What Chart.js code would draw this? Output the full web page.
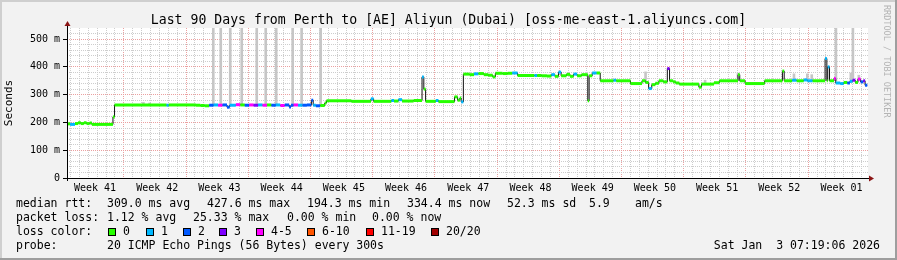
<!DOCTYPE html>
<html>
<head>
<meta charset="utf-8">
<script src="https://cdn.jsdelivr.net/npm/chart.js@4.4.1/dist/chart.umd.min.js"></script>
<style>
html, body { margin: 0; padding: 0; background: #f2f2f2; }
#wrap { position: relative; width: 897px; height: 260px; overflow: hidden; font-family: 'DejaVu Sans Mono', monospace; color: #000; }
#wrap canvas { position: absolute; left: 0; top: 0; }
.t { position: absolute; white-space: pre; font-size: 11.5px; line-height: 12px; }
#title { position: absolute; left: 0; width: 897px; top: 13px; text-align: center; font-size: 13.2px; line-height: 13px; white-space: pre; }
#side { position: absolute; left: 882px; top: 5px; writing-mode: vertical-rl; font-size: 8.5px; line-height: 10px; color: #b4b4b4; white-space: pre; }
.box { position: absolute; top: 228px; width: 6px; height: 6px; border: 1px solid #000; }
</style>
</head>
<body>
<div id="wrap">
  <canvas id="c" width="897" height="260"></canvas>
  <div id="title">Last 90 Days from Perth to [AE] Aliyun (Dubai) [oss-me-east-1.aliyuncs.com]</div>
  <div id="side">RRDTOOL / TOBI OETIKER</div>

  <div class="t" style="left:16px;top:197px">median rtt:</div>
  <div class="t" style="left:107px;top:197px">309.0 ms avg</div>
  <div class="t" style="left:207px;top:197px">427.6 ms max</div>
  <div class="t" style="left:307px;top:197px">194.3 ms min</div>
  <div class="t" style="left:407px;top:197px">334.4 ms now</div>
  <div class="t" style="left:507px;top:197px">52.3 ms sd</div>
  <div class="t" style="left:589px;top:197px">5.9</div>
  <div class="t" style="left:635px;top:197px">am/s</div>

  <div class="t" style="left:16px;top:211px">packet loss:</div>
  <div class="t" style="left:107px;top:211px">1.12 % avg</div>
  <div class="t" style="left:193px;top:211px">25.33 % max</div>
  <div class="t" style="left:287px;top:211px">0.00 % min</div>
  <div class="t" style="left:372px;top:211px">0.00 % now</div>

  <div class="t" style="left:16px;top:225px">loss color:</div>
  <div id="losslegend"></div>

  <div class="t" style="left:16px;top:239px">probe:</div>
  <div class="t" style="left:107px;top:239px">20 ICMP Echo Pings (56 Bytes) every 300s</div>
  <div class="t" style="right:17px;top:239px">Sat Jan  3 07:19:06 2026</div>
</div>
<script>
// x values are days from the left edge of the 90 day window
const weekLabels = ['Week 41', 'Week 42', 'Week 43', 'Week 44', 'Week 45', 'Week 46', 'Week 47',
  'Week 48', 'Week 49', 'Week 50', 'Week 51', 'Week 52', 'Week 01'];
const weekStart = 6.65;   // first week boundary
const dayMax = 90.13;

const lossLabels = ['0', '1', '2', '3', '4-5', '6-10', '11-19', '20/20'];
const lossColors = ['#26ff00', '#00b8ff', '#0059ff', '#7e00ff', '#ff00ff', '#ff5500', '#ff0000', '#a00000'];

// median rtt (ms), held until the next sample; loss = index into lossColors
const medDay = [0.00, 0.35, 0.90, 1.25, 1.55, 1.90, 2.20, 2.55, 2.80, 5.17, 5.35,
  11.20, 11.45, 14.50, 15.00, 15.50, 16.00, 16.50, 17.00, 17.50, 18.00, 18.30, 19.00,
  19.50, 20.00, 20.50, 21.00, 21.50, 22.00, 22.50, 23.00, 23.50, 24.00, 24.50, 25.00,
  25.20, 25.50, 26.00, 26.50, 27.00, 27.50, 27.70, 28.00, 28.50, 29.00, 29.20,
  32.00, 34.20, 34.50, 36.50, 36.80, 37.30, 37.70, 39.00, 39.95, 40.15, 40.35, 41.50,
  41.80, 43.60, 43.95, 44.20, 44.35, 44.60,
  45.30, 45.80, 46.30, 46.90, 47.40, 47.90, 48.20, 49.00, 49.60, 50.10, 50.70, 52.60,
  52.90, 53.40, 54.00, 54.50, 54.90, 55.30, 55.60, 56.20, 56.60, 57.00, 57.40, 57.90,
  58.60, 58.75, 59.10, 59.60, 60.00, 61.50, 61.80, 63.40, 64.70, 65.10, 65.45, 65.80,
  66.20, 66.60, 67.10, 67.55, 67.80, 68.20, 68.50, 68.90, 71.10, 71.40, 72.80, 73.40,
  75.50, 75.70, 76.30, 78.50, 80.50, 80.70, 81.60, 82.10, 82.90, 83.30, 83.90, 85.30,
  85.50, 85.60, 85.80, 86.30, 86.50, 87.00, 87.40, 87.80, 88.10, 88.40, 88.70, 89.00,
  89.30, 89.60, 89.80];
const medVal = [195, 193, 196, 199, 196, 199, 196, 198, 193, 220, 263,
  262, 263, 262, 261, 260, 262, 263, 262, 263, 255, 262, 264,
  263, 262, 263, 262, 263, 262, 263, 262, 263, 261, 263, 256,
  262, 263, 262, 262, 263, 280, 262, 260, 261, 270, 278,
  276, 285, 276, 279, 277, 282, 277, 279, 364, 320, 276, 279,
  275, 292, 280, 288, 274, 374,
  372, 375, 376, 372, 370, 364, 377, 376, 377, 378, 369, 369,
  369, 368, 367, 372, 366, 381, 368, 373, 366, 374, 368, 372,
  278, 368, 378, 378, 350, 352, 350, 340, 350, 344, 322, 336,
  341, 350, 346, 394, 350, 346, 342, 338, 327, 338, 343, 350,
  372, 350, 340, 350, 385, 350, 352, 350, 353, 350, 350, 430,
  350, 400, 350, 358, 342, 340, 344, 342, 348, 352, 344, 356,
  346, 350, 334];
const medLoss = [0, 1, 0, 0, 0, 0, 0, 0, 0, 0, 0,
  1, 0, 0, 0, 0, 2, 1, 4, 2, 2, 1, 4,
  0, 2, 4, 3, 1, 4, 0, 2, 1, 4, 2, 2,
  2, 4, 1, 2, 2, 2, 1, 2, 0, 0, 0,
  0, 1, 0, 1, 0, 1, 0, 0, 1, 0, 0, 1,
  0, 0, 0, 0, 1, 0,
  0, 1, 0, 0, 0, 0, 0, 0, 0, 1, 0, 1,
  0, 0, 0, 1, 0, 1, 0, 0, 0, 1, 0, 0,
  0, 0, 1, 0, 0, 1, 0, 0, 0, 0, 1, 0,
  0, 0, 0, 3, 0, 0, 0, 0, 0, 0, 0, 0,
  0, 0, 0, 0, 0, 0, 1, 0, 1, 1, 0, 1,
  0, 1, 0, 4, 1, 1, 0, 2, 1, 3, 0, 4,
  2, 3, 2];
const medEnd = 90.05;

// smoke (spread of the pings), ms
const smokeDay = [8.60, 9.30, 16.46, 17.30, 18.37, 19.66, 21.35, 22.36, 23.54, 25.39, 26.40, 28.54,
  65.10, 71.80, 75.50, 81.80, 83.30, 83.80, 86.52, 88.20, 88.43, 89.10];
const smokeLo = [263, 263, 265, 265, 265, 265, 265, 265, 265, 265, 265, 265,
  350, 338, 350, 350, 350, 350, 350, 348, 352, 350];
const smokeHi = [272, 270, 540, 540, 540, 540, 540, 540, 540, 540, 540, 540,
  382, 352, 378, 375, 375, 372, 540, 378, 540, 370];

// loss colour legend
const lossLeft = [108, 146, 183, 219, 256, 307, 366, 431];
const ll = document.getElementById('losslegend');
lossLabels.forEach((l, i) => {
  const b = document.createElement('div');
  b.className = 'box'; b.style.left = lossLeft[i] + 'px'; b.style.background = lossColors[i];
  ll.appendChild(b);
  const t = document.createElement('div');
  t.className = 't'; t.style.left = (lossLeft[i] + 15) + 'px'; t.style.top = '225px';
  t.textContent = l;
  ll.appendChild(t);
});

const smoke = smokeDay.map((d, i) => ({x: d, y: [smokeLo[i], smokeHi[i]]}));
const median = medDay.map((d, i) => ({x: d, y: medVal[i]}));
median.push({x: medEnd, y: medVal[medVal.length - 1]});
const pieces = [];
medDay.forEach((d, i) => {
  const e = i + 1 < medDay.length ? medDay[i + 1] : medEnd;
  pieces.push({x: d, y: medVal[i]}, {x: e, y: medVal[i]}, {x: e, y: null});
});

const RED = '#eba0a0', GRAY = '#cdcdcd', NONE = 'rgba(0,0,0,0)';
const FONT = 'DejaVu Sans Mono';

function near(a) { return Math.abs(a - Math.round(a)) < 1e-6; }
function gridX(ctx) {
  if (!ctx.tick) return NONE;
  const rel = ctx.tick.value - weekStart;
  if (near(rel / 7)) return RED;
  if (near(rel)) return GRAY;
  return NONE;
}
function gridY(ctx) {
  if (!ctx.tick) return NONE;
  return ctx.tick.value % 100 === 0 ? RED : GRAY;
}
function tickY(ctx) {
  if (!ctx.tick) return NONE;
  return ctx.tick.value % 100 === 0 ? '#000' : NONE;
}
function weekLabelAt(v) {
  const k = (v - weekStart + 3.5) / 7;
  if (near(k) && weekLabels[Math.round(k)]) return weekLabels[Math.round(k)];
  return '';
}

const frame = {
  id: 'frame',
  beforeDraw(c) {
    const {ctx, chartArea: a} = c;
    ctx.save();
    ctx.fillStyle = '#f2f2f2';
    ctx.fillRect(0, 0, c.width, c.height);
    ctx.fillStyle = '#cfcfcf';
    ctx.fillRect(0, 0, c.width, 2);
    ctx.fillRect(0, 0, 2, c.height);
    ctx.fillStyle = '#9e9e9e';
    ctx.fillRect(0, c.height - 2, c.width, 2);
    ctx.fillRect(c.width - 2, 0, 2, c.height);
    ctx.fillStyle = '#ffffff';
    ctx.fillRect(a.left, a.top, a.right - a.left, a.bottom - a.top);
    ctx.restore();
  },
  afterDatasetsDraw(c) {
    const {ctx, chartArea: a} = c;
    ctx.save();
    ctx.strokeStyle = '#000';
    ctx.lineWidth = 1;
    ctx.beginPath();
    ctx.moveTo(a.left + 0.5, a.bottom + 3);
    ctx.lineTo(a.left + 0.5, a.top - 4);
    ctx.moveTo(a.left - 3, a.bottom + 0.5);
    ctx.lineTo(a.right + 2, a.bottom + 0.5);
    ctx.stroke();
    ctx.fillStyle = '#8b1515';
    ctx.beginPath();
    ctx.moveTo(a.left + 0.5, a.top - 7);
    ctx.lineTo(a.left - 2.5, a.top - 2);
    ctx.lineTo(a.left + 3.5, a.top - 2);
    ctx.closePath();
    ctx.fill();
    ctx.beginPath();
    ctx.moveTo(a.right + 6, a.bottom + 0.5);
    ctx.lineTo(a.right + 1, a.bottom - 2.5);
    ctx.lineTo(a.right + 1, a.bottom + 3.5);
    ctx.closePath();
    ctx.fill();
    ctx.restore();
  }
};

new Chart(document.getElementById('c'), {
  type: 'line',
  data: {
    datasets: [
      { type: 'bar', data: smoke, backgroundColor: '#c6c6c6', barThickness: 2, grouped: false, order: 3 },
      { type: 'line', data: median, stepped: 'before', borderColor: '#111', borderWidth: 1, pointRadius: 0, order: 2 },
      { type: 'line', data: pieces, spanGaps: false, borderWidth: 3, borderCapStyle: 'butt', pointRadius: 0, order: 1,
        borderColor: lossColors[0],
        segment: { borderColor: ctx => lossColors[medLoss[Math.floor(ctx.p0DataIndex / 3)]] } }
    ]
  },
  options: {
    responsive: false,
    animation: false,
    events: [],
    layout: { padding: { top: 28, right: 29, bottom: 0, left: 0 } },
    plugins: { legend: { display: false }, tooltip: { enabled: false }, title: { display: false } },
    scales: {
      x: {
        type: 'linear', min: 0, max: dayMax, offset: false,
        afterBuildTicks: s => {
          const t = [];
          for (let j = -14; j <= 170; j++) {
            const v = weekStart + j * 0.5;
            if (v >= 0 && v <= dayMax) t.push({value: v});
          }
          s.ticks = t;
        },
        afterFit: s => { s.height = 82; },
        grid: { color: gridX, lineWidth: 1, drawTicks: false },
        border: { display: false, dash: [1, 1] },
        ticks: { autoSkip: false, maxRotation: 0, padding: 4, color: '#000',
          font: { family: FONT, size: 10 }, callback: v => weekLabelAt(v) }
      },
      y: {
        type: 'linear', min: 0, max: 540,
        afterBuildTicks: s => {
          const t = [];
          for (let v = 0; v <= 520; v += 20) t.push({value: v});
          s.ticks = t;
        },
        afterFit: s => { s.width = 67; },
        grid: { color: gridY, lineWidth: 1, tickLength: 4, tickColor: tickY },
        border: { display: false, dash: [1, 1] },
        ticks: { autoSkip: false, padding: 3, color: '#000', font: { family: FONT, size: 10 },
          callback: v => v % 100 === 0 ? (v === 0 ? '0' : v + ' m') : '' },
        title: { display: true, text: 'Seconds', color: '#000', font: { family: FONT, size: 11 },
          padding: { top: 3, bottom: 0 } }
      }
    }
  },
  plugins: [frame]
});
</script>
</body>
</html>
